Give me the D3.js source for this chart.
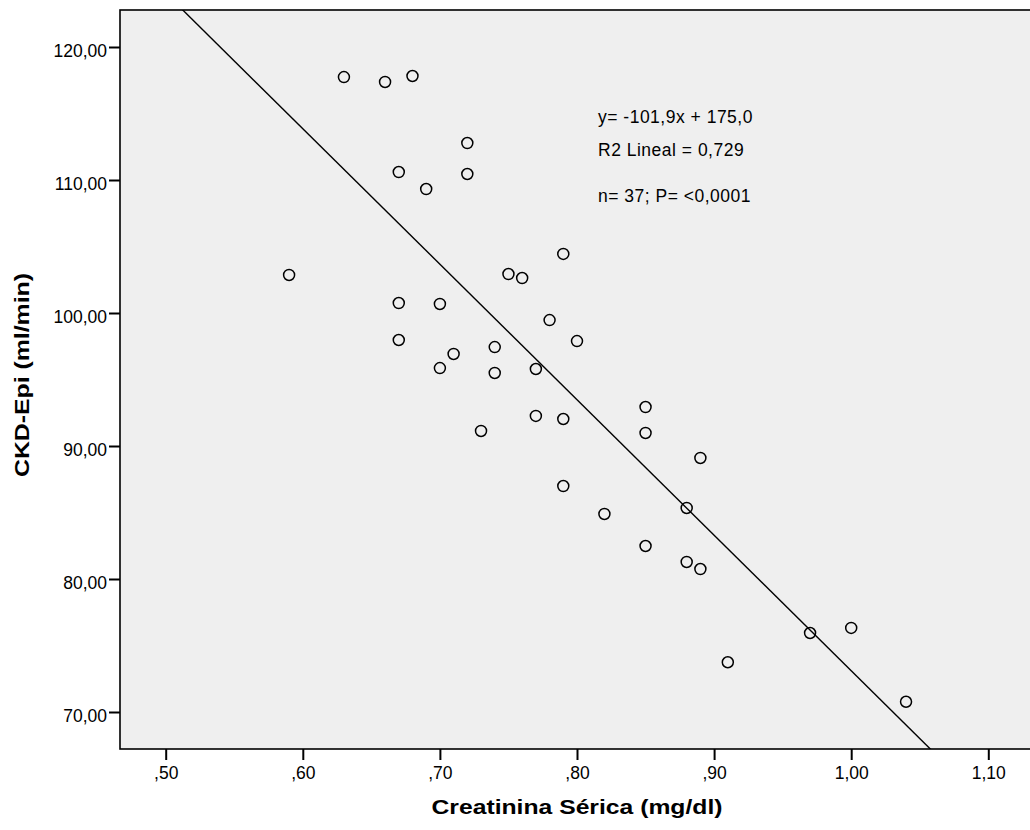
<!DOCTYPE html>
<html><head><meta charset="utf-8">
<script src="https://cdn.jsdelivr.net/npm/d3@7"></script>
<style>body{margin:0;background:#fff;} svg{display:block;}</style>
</head><body>
<svg id="c" width="1030" height="830"></svg>
<script>
const creatinina = [0.59,0.63,0.66,0.68,0.72,0.67,0.72,0.69,0.79,0.75,0.76,0.67,0.70,0.78,0.80,0.67,0.71,0.74,0.70,0.74,0.77,0.77,0.79,0.73,0.85,0.85,0.89,0.79,0.88,0.82,0.85,0.88,0.89,0.97,1.00,0.91,1.04];
const ckdEpi = [102.86,117.74,117.37,117.82,112.78,110.60,110.45,109.32,104.44,102.93,102.63,100.75,100.68,99.47,97.89,97.97,96.92,97.44,95.86,95.49,95.79,92.26,92.03,91.13,92.93,90.98,89.10,86.99,85.34,84.89,82.48,81.28,80.75,75.94,76.32,73.74,70.77];
const xTicks = [0.5,0.6,0.7,0.8,0.9,1.0,1.1];
const xTickLabels = [",50",",60",",70",",80",",90","1,00","1,10"];
const yTicks = [70,80,90,100,110,120];
const yTickLabels = ["70,00","80,00","90,00","100,00","110,00","120,00"];
const fitSlope = -101.9, fitIntercept = 175.0;
const annotations = ["y= -101,9x + 175,0","R2 Lineal = 0,729","n= 37; P= <0,0001"];

const svg = d3.select("#c");
const L = 120, T = 10, B = 749, R = 1040;
const x = d3.scaleLinear().domain([0.5,1.1]).range([165.7,988.3]);
const y = d3.scaleLinear().domain([70,120]).range([712,47]);
const font = "'Liberation Sans', Arial, sans-serif";

svg.append("rect").attr("x",L).attr("y",T).attr("width",R-L).attr("height",B-T)
  .attr("fill","#efefef").attr("stroke","#000").attr("stroke-width",1.6);

svg.append("clipPath").attr("id","pc").append("rect")
  .attr("x",L).attr("y",T).attr("width",R-L).attr("height",B-T);

// regression line
const x0 = x.invert(L), x1 = x.invert(R);
svg.append("g").attr("clip-path","url(#pc)").append("line")
  .attr("x1",x(x0)).attr("y1",y(fitSlope*x0+fitIntercept))
  .attr("x2",x(x1)).attr("y2",y(fitSlope*x1+fitIntercept))
  .attr("stroke","#000").attr("stroke-width",1.4);

// points
svg.append("g").selectAll("circle").data(creatinina).join("circle")
  .attr("cx",d=>x(d)).attr("cy",(d,i)=>y(ckdEpi[i])).attr("r",5.5)
  .attr("fill","none").attr("stroke","#000").attr("stroke-width",1.5);

// axes
const xa = svg.append("g").attr("transform",`translate(0,${B})`)
  .call(d3.axisBottom(x).tickValues(xTicks).tickFormat((d,i)=>xTickLabels[i]).tickSize(11).tickPadding(7));
const ya = svg.append("g").attr("transform",`translate(${L},0)`)
  .call(d3.axisLeft(y).tickValues(yTicks).tickFormat((d,i)=>yTickLabels[i]).tickSize(11).tickPadding(2));
[xa,ya].forEach(a=>{
  a.select(".domain").remove();
  a.selectAll(".tick line").attr("stroke","#000").attr("stroke-width",2);
  a.selectAll(".tick text").attr("font-family",font).attr("font-size",17.5).attr("fill","#000");
});
ya.selectAll(".tick text").attr("dy","0.55em");

// annotations
const annY = [123,156,202];
svg.append("g").selectAll("text").data(annotations).join("text")
  .attr("x",598).attr("y",(d,i)=>annY[i]).text(d=>d)
  .attr("font-family",font).attr("font-size",17.5).attr("letter-spacing",0.5).attr("fill","#000");

// axis titles
svg.append("text").attr("x",577).attr("y",814).attr("text-anchor","middle")
  .attr("font-family",font).attr("font-size",21).attr("font-weight","bold")
  .attr("textLength",291).attr("lengthAdjust","spacingAndGlyphs").text("Creatinina Sérica (mg/dl)");
svg.append("text").attr("transform","translate(29,375) rotate(-90)").attr("text-anchor","middle")
  .attr("font-family",font).attr("font-size",21).attr("font-weight","bold")
  .attr("textLength",204).attr("lengthAdjust","spacingAndGlyphs").text("CKD-Epi (ml/min)");
</script>
</body></html>
